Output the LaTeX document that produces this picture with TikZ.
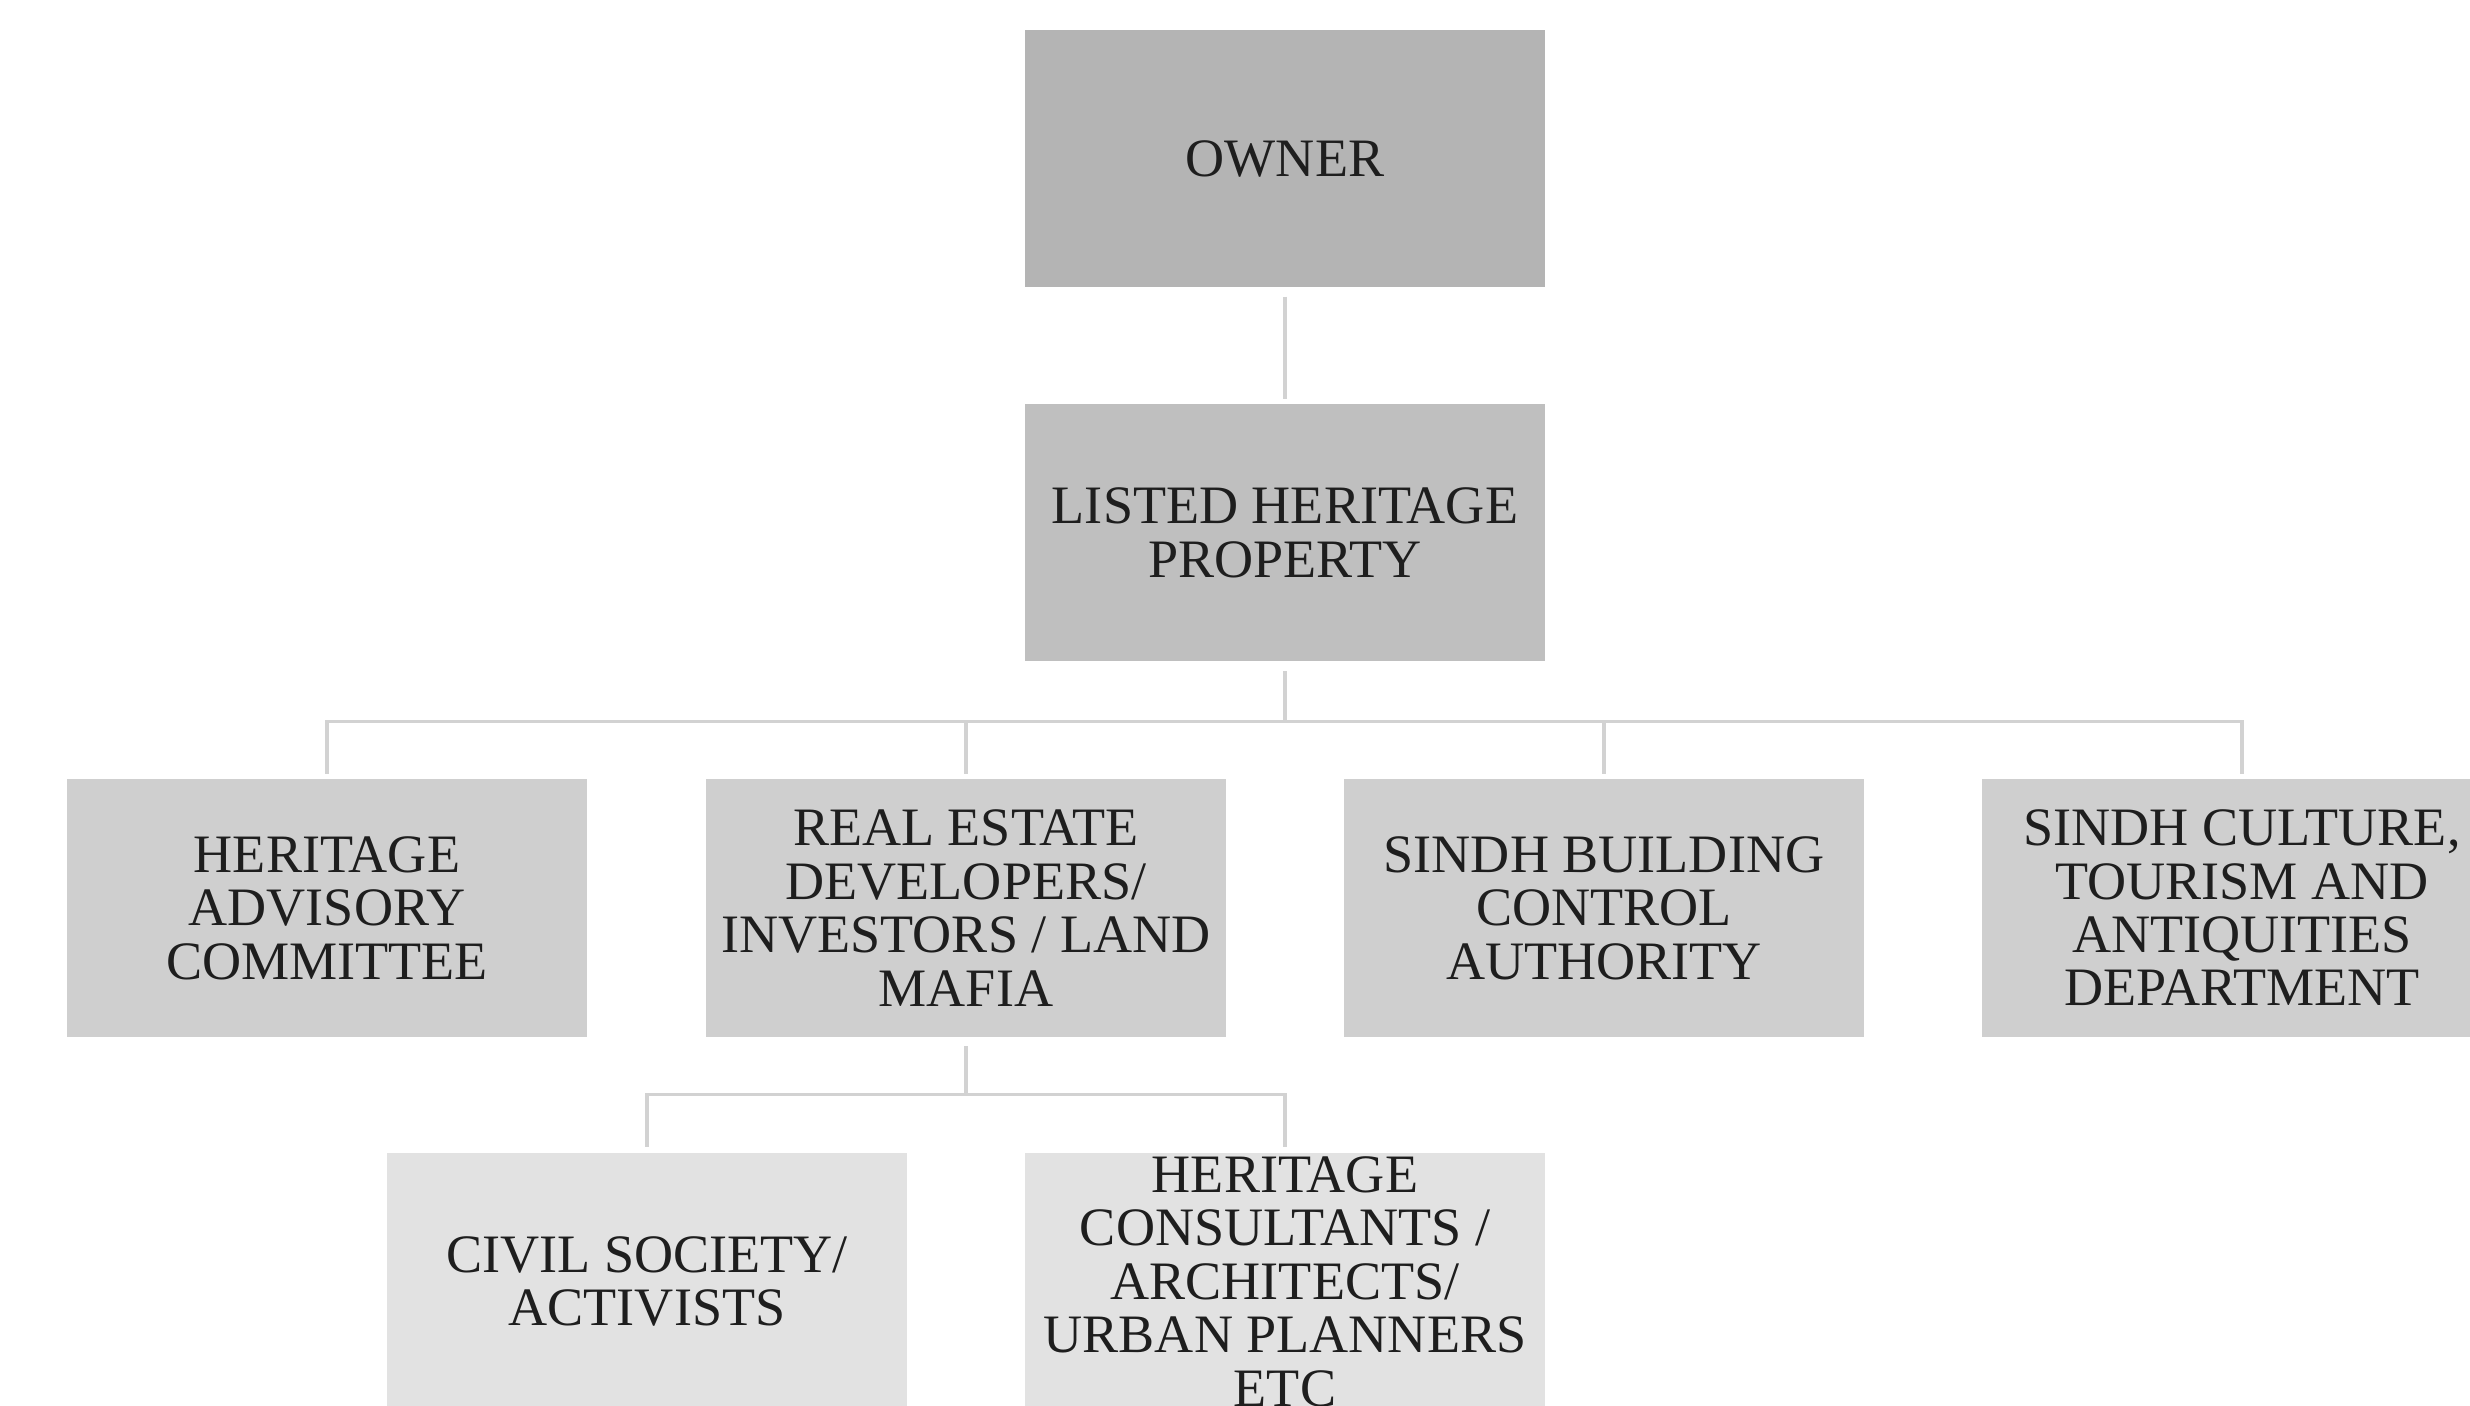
\documentclass[tikz,border=0pt]{standalone}
\usepackage{fontspec}
\setmainfont{Liberation Serif}
\usetikzlibrary{positioning}
\definecolor{topgray}{HTML}{B4B4B4}
\definecolor{propgray}{HTML}{BFBFBF}
\definecolor{midgray}{HTML}{CFCFCF}
\definecolor{lowgray}{HTML}{E2E2E2}
\definecolor{linkgray}{HTML}{D2D2D2}
\definecolor{textgray}{HTML}{1E1E1E}
\begin{document}
\begin{tikzpicture}[
  box/.style={rectangle, minimum width=5.2cm, minimum height=2.57cm,
    inner sep=0pt, align=center, text=textgray,
    font=\fontsize{15.4pt}{15.2pt}\selectfont},
  link/.style={draw=linkgray, line width=0.9pt,
    shorten <=0.09cm, shorten >=0.05cm}
]
  \useasboundingbox (0,0) rectangle (24.7,14.05);
  \clip (0,0) rectangle (24.7,14.05);
  \node[box,fill=topgray] (owner) at (12.85,12.465) {OWNER};
  \node[box,fill=propgray] (listed) at (12.85,8.72) {LISTED HERITAGE\\PROPERTY};
  \node[box,fill=midgray] (hac) at (3.27,4.97) {HERITAGE\\ADVISORY\\COMMITTEE};
  \node[box,fill=midgray] (real) at (9.66,4.97) {REAL ESTATE\\DEVELOPERS/\\INVESTORS / LAND\\MAFIA};
  \node[box,fill=midgray] (sbca) at (16.04,4.97) {SINDH BUILDING\\CONTROL\\AUTHORITY};
  \node[box,fill=midgray] (sctad) at (22.42,4.97) {SINDH CULTURE,\\TOURISM AND\\ANTIQUITIES\\DEPARTMENT};
  \node[box,fill=lowgray] (civil) at (6.47,1.235) {CIVIL SOCIETY/\\ACTIVISTS};
  \node[box,fill=lowgray] (consult) at (12.85,1.235) {HERITAGE\\CONSULTANTS /\\ARCHITECTS/\\URBAN PLANNERS\\ETC};
  \draw[link] (owner) -- (listed);
  \foreach \n in {hac,real,sbca,sctad}
    \draw[link] (listed.south) -- ++(0,-0.59) -| (\n.north);
  \foreach \n in {civil,consult}
    \draw[link] (real.south) -- ++(0,-0.57) -| (\n.north);
\end{tikzpicture}
\end{document}
